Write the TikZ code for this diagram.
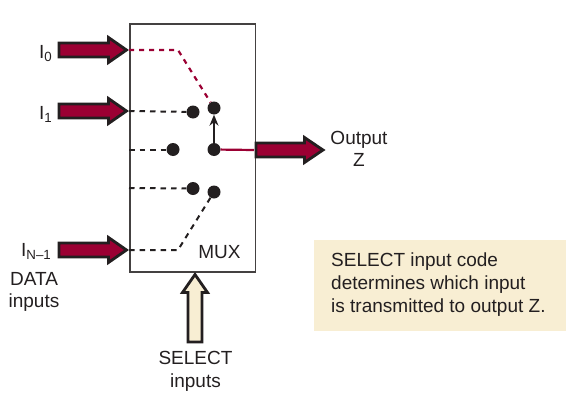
\documentclass[tikz,border=0pt]{standalone}
\usepackage{fontspec}
\setmainfont{Liberation Sans}
\usetikzlibrary{arrows.meta,shapes.arrows}
\definecolor{wine}{HTML}{9B0033}
\definecolor{cream}{HTML}{F8EED3}
\definecolor{ink}{HTML}{231F20}
\tikzset{
  lbl/.style={font=\fontsize{19}{22.5}\selectfont,text=ink,inner sep=0pt,align=center},
  dot/.style={circle,fill=ink,minimum size=13pt,inner sep=0pt},
  bigarrow/.style={draw=ink,line width=2.8pt,miter limit=10,fill=#1},
  blackdash/.style={draw=ink,line width=2pt,dash pattern=on 5.5pt off 5pt},
  reddash/.style={draw=wine,line width=2.2pt,dash pattern=on 5pt off 5pt},
  wineline/.style={draw=wine,line width=2.2pt},
}
\begin{document}
\begin{tikzpicture}[x=1pt,y=-1pt]
\useasboundingbox (0,0) rectangle (588,415);
% note panel
\node[fill=cream,minimum width=252pt,minimum height=91pt,inner sep=0pt,anchor=north west] (note) at (314,240) {};
\node[lbl,align=left,anchor=west,font=\fontsize{19}{23}\selectfont] (notetext) at (331,285) {SELECT input code\\determines which input\\is transmitted to output Z.};
% mux box
\node[draw=ink!85,line width=1.5pt,minimum width=125.5pt,minimum height=248pt,inner sep=0pt,anchor=north west] (mux) at (129,23) {};
\node[lbl,anchor=center] (muxlabel) at (219.5,252) {MUX};
% anchors
\coordinate (i0) at (129,50);
\coordinate (i1) at (129,111);
\coordinate (i2) at (129,149.5);
\coordinate (i3) at (129,188);
\coordinate (i4) at (129,250);
\coordinate (b0) at (178,50);
\coordinate (b4) at (178,250);
\coordinate (o) at (254,150);
% contacts
\node[dot] (d1) at (193,112) {};
\node[dot] (d0) at (214,108) {};
\node[dot] (d2) at (173,149.5) {};
\node[dot] (c) at (214,149.5) {};
\node[dot] (d3) at (193,188.5) {};
\node[dot] (d4) at (214,192) {};
% connectors
\draw[reddash] (i0) -- (b0) -- (d0);
\draw[blackdash] (i1) -- (d1);
\draw[blackdash] (i2) -- (d2);
\draw[blackdash] (i3) -- (d3);
\draw[blackdash] (i4) -- (b4) -- (d4);
\draw[ink,line width=1.4pt,-{Stealth[length=11pt,width=9pt]}] (c) -- (d0);
\draw[wineline] (c) -- (o);
% big arrows
\path[bigarrow=wine] (59,43) -- (108.5,43) -- (108.5,37.5) -- (126.5,50) -- (108.5,62.5) -- (108.5,57) -- (59,57) -- cycle;
\path[bigarrow=wine] (59,104) -- (108.5,104) -- (108.5,98.5) -- (126.5,111) -- (108.5,123.5) -- (108.5,118) -- (59,118) -- cycle;
\path[bigarrow=wine] (59,243) -- (108.5,243) -- (108.5,237.5) -- (126.5,250) -- (108.5,262.5) -- (108.5,257) -- (59,257) -- cycle;
\path[bigarrow=wine] (256,143) -- (304.5,143) -- (304.5,137.5) -- (323,150) -- (304.5,162.5) -- (304.5,157) -- (256,157) -- cycle;
\path[bigarrow=cream] (188,342) -- (188,292.5) -- (182.5,292.5) -- (195,274.5) -- (207.5,292.5) -- (202,292.5) -- (202,342) -- cycle;
% labels
\node[lbl,anchor=base west] (l0) at (39,58) {I\textsubscript{0}};
\node[lbl,anchor=base west] (l1) at (39,119) {I\textsubscript{1}};
\node[lbl,anchor=base west] (l2) at (21,256) {I\textsubscript{N–1}};
\node[lbl] (datal) at (34,292) {DATA\\inputs};
\node[lbl] (sel) at (195.5,371.5) {SELECT\\inputs};
\node[lbl] (out) at (359,149) {Output\\Z};
\end{tikzpicture}
\end{document}
